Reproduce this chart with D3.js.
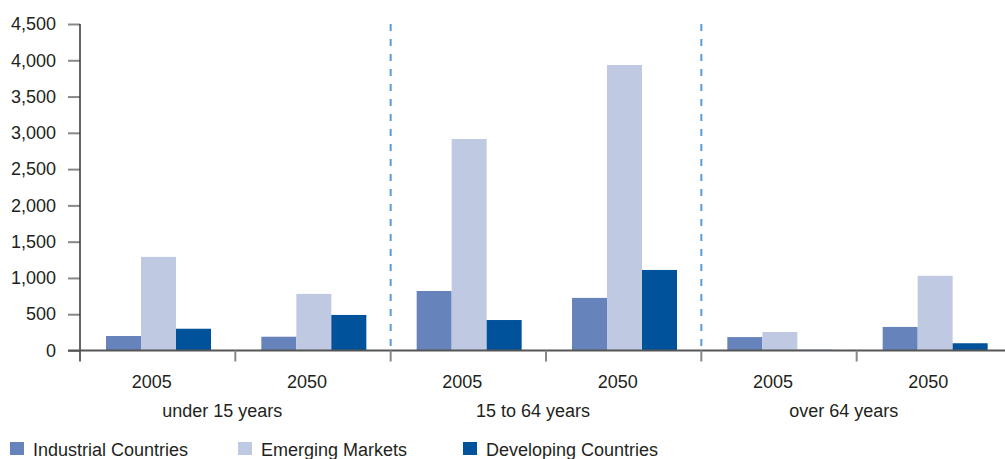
<!DOCTYPE html>
<html>
<head>
<meta charset="utf-8">
<script src="https://cdn.jsdelivr.net/npm/d3@7"></script>
<style>
  body { margin: 0; background: #fff; }
  text { font-family: "Liberation Sans", Arial, sans-serif; fill: #231f20; }
</style>
</head>
<body>
<svg id="chart" width="1005" height="459"></svg>
<script>
const groups = ["under 15 years", "15 to 64 years", "over 64 years"];
const years = ["2005", "2050"];
const seriesNames = ["Industrial Countries", "Emerging Markets", "Developing Countries"];
const seriesColors = ["#6683bb", "#bfc9e2", "#00529b"];
const industrial = [200, 190, 820, 725, 185, 325];
const emerging = [1290, 780, 2915, 3935, 255, 1030];
const developing = [300, 490, 420, 1110, 10, 100];
const yTicks = [0, 500, 1000, 1500, 2000, 2500, 3000, 3500, 4000, 4500];

const svg = d3.select("#chart");
const plotLeft = 80, plotRight = 1012, plotTop = 24, plotBottom = 350.5;

// one band per group/year pair
const slots = groups.flatMap(g => years.map(y => g + "|" + y));
const series = [industrial, emerging, developing];

const x = d3.scaleBand().domain(slots).range([plotLeft, plotRight]).padding(0);
const inner = d3.scaleBand().domain(d3.range(seriesNames.length)).range([26, 131]).padding(0);
const y = d3.scaleLinear().domain([0, 4500]).range([plotBottom, plotTop]);

// bars
slots.forEach((s, i) => {
  svg.append("g")
    .selectAll("rect")
    .data(series.map((vals, k) => ({ k, v: vals[i] })))
    .join("rect")
    .attr("x", d => x(s) + inner(d.k))
    .attr("width", inner.bandwidth())
    .attr("y", d => y(d.v))
    .attr("height", d => y(0) - y(d.v))
    .attr("fill", d => seriesColors[d.k]);
});

// dashed group separators
const sepX = groups.slice(1).map(g => x(g + "|" + years[0]));
svg.append("g")
  .selectAll("line")
  .data(sepX)
  .join("line")
  .attr("x1", d => d).attr("x2", d => d)
  .attr("y1", plotTop).attr("y2", plotBottom)
  .attr("stroke", "#5b9bd5")
  .attr("stroke-width", 2)
  .attr("stroke-dasharray", "7,8");

// y axis
const yAxis = d3.axisLeft(y).tickValues(yTicks).tickSize(12).tickPadding(12)
  .tickFormat(d3.format(","));
const yg = svg.append("g").attr("transform", `translate(${plotLeft},0)`).call(yAxis);
yg.select(".domain").remove();
yg.selectAll(".tick line").attr("stroke", "#888").attr("stroke-width", 2);
yg.selectAll(".tick text").attr("font-size", 18).attr("fill", "#231f20")
  .attr("font-family", null);
svg.append("line")
  .attr("x1", plotLeft).attr("x2", plotLeft)
  .attr("y1", plotTop).attr("y2", plotBottom + 11)
  .attr("stroke", "#333").attr("stroke-width", 1.5);

// x axis line and ticks
svg.append("line")
  .attr("x1", plotLeft - 12).attr("x2", 1005)
  .attr("y1", plotBottom).attr("y2", plotBottom)
  .attr("stroke", "#555").attr("stroke-width", 2);
const bounds = slots.slice(1).map(s => x(s));
svg.append("g")
  .selectAll("line")
  .data(bounds)
  .join("line")
  .attr("x1", d => d).attr("x2", d => d)
  .attr("y1", plotBottom).attr("y2", plotBottom + 11)
  .attr("stroke", "#888").attr("stroke-width", 2);

// year labels
svg.append("g")
  .selectAll("text")
  .data(slots)
  .join("text")
  .attr("x", d => x(d) + x.bandwidth() / 2 - 6)
  .attr("y", 388)
  .attr("text-anchor", "middle")
  .attr("font-size", 18)
  .text(d => d.split("|")[1]);

// group labels
svg.append("g")
  .selectAll("text")
  .data(groups)
  .join("text")
  .attr("x", g => x(g + "|" + years[1]) - 13)
  .attr("y", 417)
  .attr("text-anchor", "middle")
  .attr("font-size", 18)
  .text(g => g);

// legend
const legendX = [10, 238, 463];
const lg = svg.append("g")
  .selectAll("g")
  .data(seriesNames)
  .join("g")
  .attr("transform", (d, i) => `translate(${legendX[i]},442)`);
lg.append("rect")
  .attr("width", 14).attr("height", 13)
  .attr("fill", (d, i) => seriesColors[i]);
lg.append("text")
  .attr("x", 23).attr("y", 14)
  .attr("font-size", 18)
  .text(d => d);
</script>
</body>
</html>
